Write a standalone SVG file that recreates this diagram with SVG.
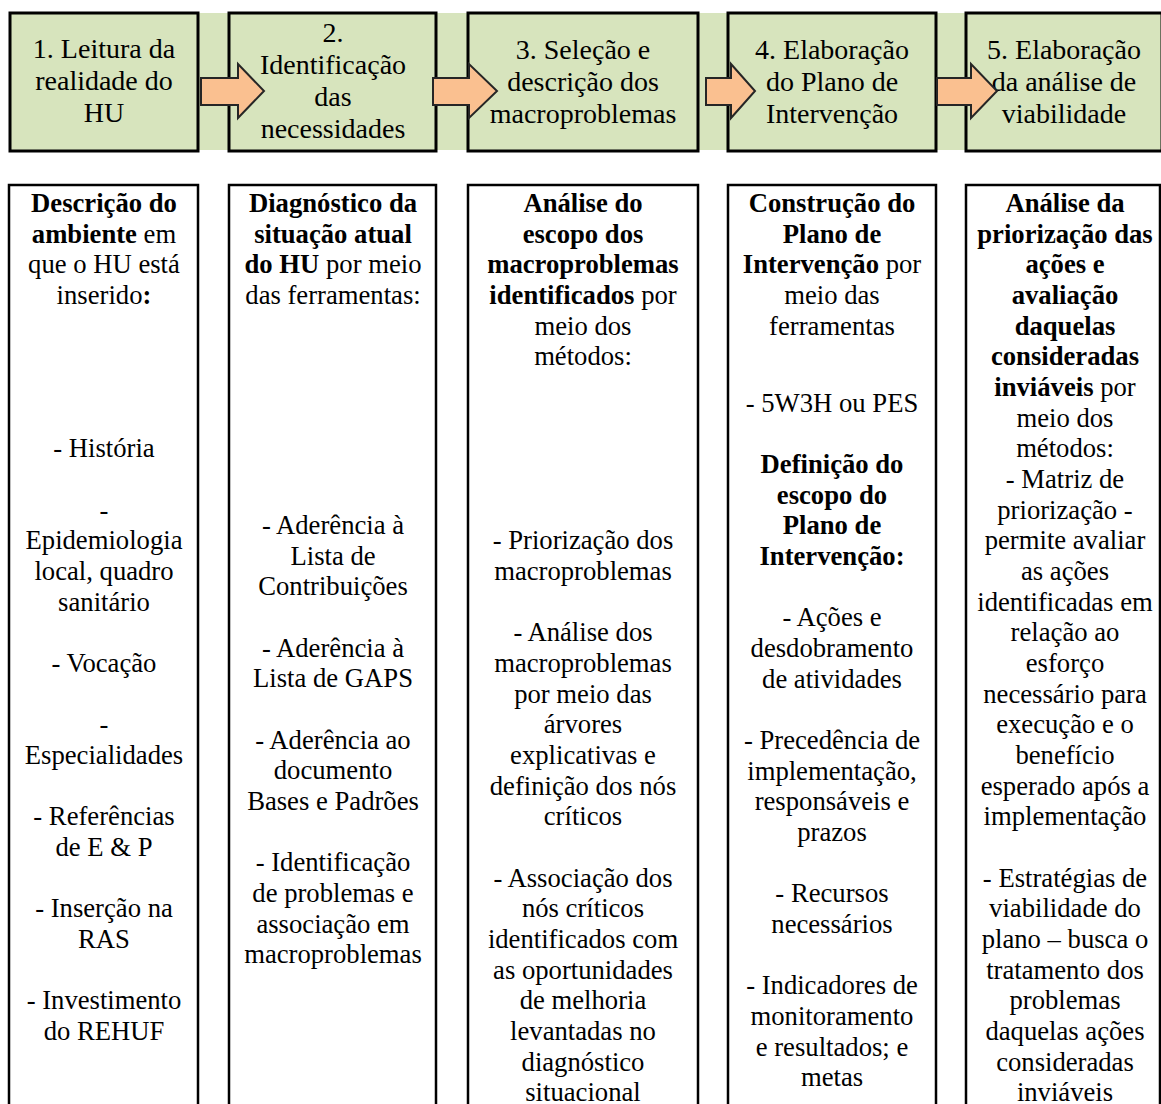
<svg xmlns="http://www.w3.org/2000/svg" width="1161" height="1104" viewBox="0 0 1161 1104">
<style>
.band{fill:#D7E4BD}
.hbox{fill:#D7E4BD;stroke:#000;stroke-width:3}
.cbox{fill:#fff;stroke:#000;stroke-width:2.5}
.arrow{fill:#FAC090;stroke:#262626;stroke-width:2;stroke-linejoin:miter}
.h{font-family:"Liberation Serif","Times New Roman",serif;font-size:28px;fill:#000;text-anchor:middle}
.t{font-family:"Liberation Serif","Times New Roman",serif;font-size:26.67px;fill:#000;text-anchor:middle}
.b{font-weight:bold}
</style>
<rect width="1161" height="1104" fill="#fff"/>
<rect class="band" x="10" y="13" width="1151" height="137"/>

<g id="step1">
<rect class="hbox" x="10" y="13" width="188" height="138"/>
<text class="h" x="104" y="58">1. Leitura da</text>
<text class="h" x="104" y="90">realidade do</text>
<text class="h" x="104" y="122">HU</text>
</g>
<g id="step2">
<rect class="hbox" x="229" y="13" width="207" height="138"/>
<text class="h" x="333" y="42">2.</text>
<text class="h" x="333" y="74">Identificação</text>
<text class="h" x="333" y="106">das</text>
<text class="h" x="333" y="138">necessidades</text>
</g>
<g id="step3">
<rect class="hbox" x="468" y="13" width="230" height="138"/>
<text class="h" x="583" y="59">3. Seleção e</text>
<text class="h" x="583" y="91">descrição dos</text>
<text class="h" x="583" y="123">macroproblemas</text>
</g>
<g id="step4">
<rect class="hbox" x="728" y="13" width="208" height="138"/>
<text class="h" x="832" y="59">4. Elaboração</text>
<text class="h" x="832" y="91">do Plano de</text>
<text class="h" x="832" y="123">Intervenção</text>
</g>
<g id="step5">
<rect class="hbox" x="966" y="13" width="196" height="138"/>
<text class="h" x="1064" y="59">5. Elaboração</text>
<text class="h" x="1064" y="91">da análise de</text>
<text class="h" x="1064" y="123">viabilidade</text>
</g>

<g id="connectors">
<polygon class="arrow" points="201,78 238,78 238,64 264,91 238,118 238,105 201,105"/>
<polygon class="arrow" points="433,78 469,78 469,64 497,91 469,118 469,105 433,105"/>
<polygon class="arrow" points="706,78 731,78 731,64 755,91 731,118 731,105 706,105"/>
<polygon class="arrow" points="937,78 971,78 971,64 997,91 971,118 971,105 937,105"/>
</g>

<g id="col1">
<rect class="cbox" x="9" y="185" width="189" height="930"/>
<text class="t" x="104" y="212"><tspan class="b">Descrição do</tspan></text>
<text class="t" x="104" y="242.7"><tspan class="b">ambiente</tspan> em</text>
<text class="t" x="104" y="273.3">que o HU está</text>
<text class="t" x="104" y="304">inserido<tspan class="b">:</tspan></text>
<text class="t" x="104" y="457.3">- História</text>
<text class="t" x="104" y="518.7">-</text>
<text class="t" x="104" y="549.3">Epidemiologia</text>
<text class="t" x="104" y="580">local, quadro</text>
<text class="t" x="104" y="610.7">sanitário</text>
<text class="t" x="104" y="672">- Vocação</text>
<text class="t" x="104" y="733.3">-</text>
<text class="t" x="104" y="764">Especialidades</text>
<text class="t" x="104" y="825.3">- Referências</text>
<text class="t" x="104" y="856">de E &amp; P</text>
<text class="t" x="104" y="917.3">- Inserção na</text>
<text class="t" x="104" y="948">RAS</text>
<text class="t" x="104" y="1009.3">- Investimento</text>
<text class="t" x="104" y="1040">do REHUF</text>
</g>

<g id="col2">
<rect class="cbox" x="229" y="185" width="207" height="930"/>
<text class="t" x="333" y="212"><tspan class="b">Diagnóstico da</tspan></text>
<text class="t" x="333" y="242.7"><tspan class="b">situação atual</tspan></text>
<text class="t" x="333" y="273.3"><tspan class="b">do HU</tspan> por meio</text>
<text class="t" x="333" y="304">das ferramentas:</text>
<text class="t" x="333" y="534">- Aderência à</text>
<text class="t" x="333" y="564.7">Lista de</text>
<text class="t" x="333" y="595.3">Contribuições</text>
<text class="t" x="333" y="656.7">- Aderência à</text>
<text class="t" x="333" y="687.3">Lista de GAPS</text>
<text class="t" x="333" y="748.7">- Aderência ao</text>
<text class="t" x="333" y="779.3">documento</text>
<text class="t" x="333" y="810">Bases e Padrões</text>
<text class="t" x="333" y="871.3">- Identificação</text>
<text class="t" x="333" y="902">de problemas e</text>
<text class="t" x="333" y="932.7">associação em</text>
<text class="t" x="333" y="963.3">macroproblemas</text>
</g>

<g id="col3">
<rect class="cbox" x="468" y="185" width="230" height="930"/>
<text class="t" x="583" y="212"><tspan class="b">Análise do</tspan></text>
<text class="t" x="583" y="242.7"><tspan class="b">escopo dos</tspan></text>
<text class="t" x="583" y="273.3"><tspan class="b">macroproblemas</tspan></text>
<text class="t" x="583" y="304"><tspan class="b">identificados</tspan> por</text>
<text class="t" x="583" y="334.7">meio dos</text>
<text class="t" x="583" y="365.3">métodos:</text>
<text class="t" x="583" y="549.3">- Priorização dos</text>
<text class="t" x="583" y="580">macroproblemas</text>
<text class="t" x="583" y="641.3">- Análise dos</text>
<text class="t" x="583" y="672">macroproblemas</text>
<text class="t" x="583" y="702.7">por meio das</text>
<text class="t" x="583" y="733.3">árvores</text>
<text class="t" x="583" y="764">explicativas e</text>
<text class="t" x="583" y="794.7">definição dos nós</text>
<text class="t" x="583" y="825.3">críticos</text>
<text class="t" x="583" y="886.7">- Associação dos</text>
<text class="t" x="583" y="917.3">nós críticos</text>
<text class="t" x="583" y="948">identificados com</text>
<text class="t" x="583" y="978.7">as oportunidades</text>
<text class="t" x="583" y="1009.3">de melhoria</text>
<text class="t" x="583" y="1040">levantadas no</text>
<text class="t" x="583" y="1070.7">diagnóstico</text>
<text class="t" x="583" y="1101.3">situacional</text>
</g>

<g id="col4">
<rect class="cbox" x="728" y="185" width="208" height="930"/>
<text class="t" x="832" y="212"><tspan class="b">Construção do</tspan></text>
<text class="t" x="832" y="242.7"><tspan class="b">Plano de</tspan></text>
<text class="t" x="832" y="273.3"><tspan class="b">Intervenção</tspan> por</text>
<text class="t" x="832" y="304">meio das</text>
<text class="t" x="832" y="334.7">ferramentas</text>
<text class="t" x="832" y="412">- 5W3H ou PES</text>
<text class="t" x="832" y="473"><tspan class="b">Definição do</tspan></text>
<text class="t" x="832" y="503.7"><tspan class="b">escopo do</tspan></text>
<text class="t" x="832" y="534.3"><tspan class="b">Plano de</tspan></text>
<text class="t" x="832" y="565"><tspan class="b">Intervenção:</tspan></text>
<text class="t" x="832" y="626.3">- Ações e</text>
<text class="t" x="832" y="657">desdobramento</text>
<text class="t" x="832" y="687.7">de atividades</text>
<text class="t" x="832" y="749">- Precedência de</text>
<text class="t" x="832" y="779.7">implementação,</text>
<text class="t" x="832" y="810.3">responsáveis e</text>
<text class="t" x="832" y="841">prazos</text>
<text class="t" x="832" y="902.3">- Recursos</text>
<text class="t" x="832" y="933">necessários</text>
<text class="t" x="832" y="994.3">- Indicadores de</text>
<text class="t" x="832" y="1025">monitoramento</text>
<text class="t" x="832" y="1055.7">e resultados; e</text>
<text class="t" x="832" y="1086.3">metas</text>
</g>

<g id="col5">
<rect class="cbox" x="966" y="185" width="194" height="930"/>
<text class="t" x="1065" y="212"><tspan class="b">Análise da</tspan></text>
<text class="t" x="1065" y="242.7"><tspan class="b">priorização das</tspan></text>
<text class="t" x="1065" y="273.3"><tspan class="b">ações e</tspan></text>
<text class="t" x="1065" y="304"><tspan class="b">avaliação</tspan></text>
<text class="t" x="1065" y="334.7"><tspan class="b">daquelas</tspan></text>
<text class="t" x="1065" y="365.3"><tspan class="b">consideradas</tspan></text>
<text class="t" x="1065" y="396"><tspan class="b">inviáveis</tspan> por</text>
<text class="t" x="1065" y="426.7">meio dos</text>
<text class="t" x="1065" y="457.3">métodos:</text>
<text class="t" x="1065" y="488">- Matriz de</text>
<text class="t" x="1065" y="518.7">priorização -</text>
<text class="t" x="1065" y="549.3">permite avaliar</text>
<text class="t" x="1065" y="580">as ações</text>
<text class="t" x="1065" y="610.7">identificadas em</text>
<text class="t" x="1065" y="641.3">relação ao</text>
<text class="t" x="1065" y="672">esforço</text>
<text class="t" x="1065" y="702.7">necessário para</text>
<text class="t" x="1065" y="733.3">execução e o</text>
<text class="t" x="1065" y="764">benefício</text>
<text class="t" x="1065" y="794.7">esperado após a</text>
<text class="t" x="1065" y="825.3">implementação</text>
<text class="t" x="1065" y="886.7">- Estratégias de</text>
<text class="t" x="1065" y="917.3">viabilidade do</text>
<text class="t" x="1065" y="948">plano – busca o</text>
<text class="t" x="1065" y="978.7">tratamento dos</text>
<text class="t" x="1065" y="1009.3">problemas</text>
<text class="t" x="1065" y="1040">daquelas ações</text>
<text class="t" x="1065" y="1070.7">consideradas</text>
<text class="t" x="1065" y="1101.3">inviáveis</text>
</g>
</svg>
